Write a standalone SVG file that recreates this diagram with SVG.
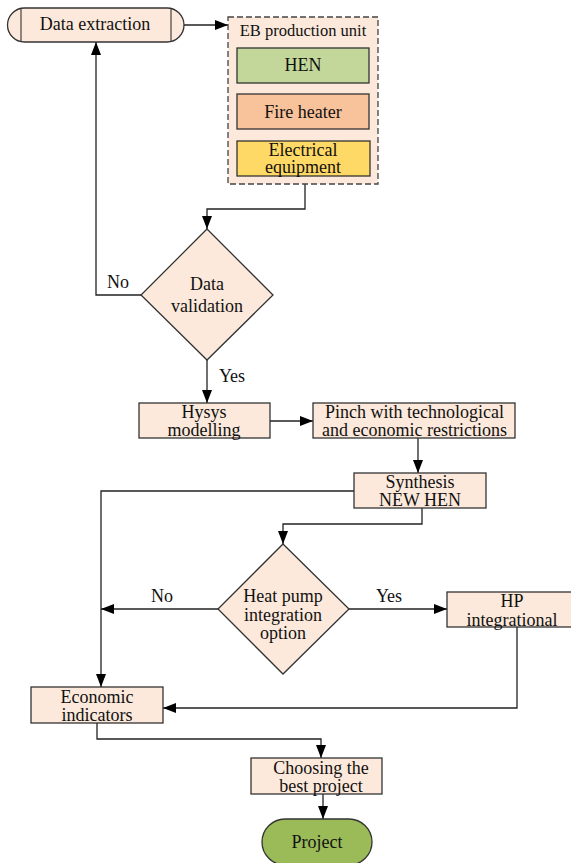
<svg xmlns="http://www.w3.org/2000/svg" width="571" height="863" viewBox="0 0 571 863" font-family="'Liberation Serif', 'DejaVu Serif', serif">
<defs>
<marker id="arr" markerWidth="14" markerHeight="10" refX="13" refY="5" orient="auto" markerUnits="userSpaceOnUse">
<path d="M0,0 L13,5 L0,10 Z" fill="#000"/>
</marker>
<style>
text{font-family:'Liberation Serif','DejaVu Serif',serif;font-size:18px;fill:#111;text-anchor:middle}
.box{fill:#FCE9DB;stroke:#333;stroke-width:1.3}
.con{fill:none;stroke:#222;stroke-width:1.3}
.arr{marker-end:url(#arr)}
</style>
</defs>
<rect width="571" height="863" fill="#fff"/>

<g id="connectors">
<path class="con arr" d="M184,25 H228"/>
<path class="con arr" d="M305,184 V209 H207 V229"/>
<path class="con arr" d="M141,295 H96 V42"/>
<path class="con arr" d="M207,360 V403"/>
<path class="con arr" d="M270,421 H313"/>
<path class="con arr" d="M418,438 V473"/>
<path class="con arr" d="M354,491 H101 V687"/>
<path class="con arr" d="M422,508 V524 H283 V544"/>
<path class="con arr" d="M218,609 H101"/>
<path class="con arr" d="M349,609 H447"/>
<path class="con arr" d="M517,627 V708 H163"/>
<path class="con arr" d="M97,723 V739 H321 V758"/>
<path class="con arr" d="M323,794 V819"/>
<text x="118" y="288">No</text>
<text x="232" y="382">Yes</text>
<text x="162" y="602">No</text>
<text x="389" y="602">Yes</text>
</g>

<g id="data-extraction">
<rect x="7.5" y="8" width="176.5" height="34" rx="17" ry="17" class="box"/>
<line x1="21" y1="8" x2="21" y2="42" stroke="#333" stroke-width="1.1"/>
<line x1="171" y1="8" x2="171" y2="42" stroke="#333" stroke-width="1.1"/>
<text x="95" y="30">Data extraction</text>
</g>

<g id="eb-unit">
<rect x="228" y="17" width="150" height="167" fill="#FCE9DB" stroke="#444" stroke-width="1.3" stroke-dasharray="6,3"/>
<text x="303" y="36" style="font-size:16.5px">EB production unit</text>
</g>
<g id="hen">
<rect x="237" y="48" width="132" height="35" fill="#C4D79B" stroke="#333" stroke-width="1.3"/>
<text x="303" y="71">HEN</text>
</g>
<g id="fire-heater">
<rect x="237" y="94" width="132" height="35" fill="#F8C29A" stroke="#333" stroke-width="1.3"/>
<text x="303" y="118">Fire heater</text>
</g>
<g id="electrical">
<rect x="237" y="141" width="133" height="35" fill="#FFD966" stroke="#333" stroke-width="1.3"/>
<text x="303" y="156">Electrical</text>
<text x="303" y="173">equipment</text>
</g>

<g id="data-validation">
<polygon points="207,229 273,295 207,360 141,295" class="box"/>
<text x="207" y="290">Data</text>
<text x="207" y="312">validation</text>
</g>

<g id="hysys">
<rect x="139" y="403" width="131" height="35" class="box"/>
<text x="204" y="418">Hysys</text>
<text x="204" y="436">modelling</text>
</g>

<g id="pinch">
<rect x="313" y="403" width="202" height="35" class="box"/>
<text x="414.5" y="418">Pinch with technological</text>
<text x="414.5" y="436">and economic restrictions</text>
</g>

<g id="synthesis">
<rect x="354" y="473" width="132" height="35" class="box"/>
<text x="420" y="488">Synthesis</text>
<text x="420" y="506">NEW HEN</text>
</g>

<g id="heat-pump">
<polygon points="283,544 349,609 283,674 218,609" class="box"/>
<text x="283" y="602">Heat pump</text>
<text x="283" y="621">integration</text>
<text x="283" y="639">option</text>
</g>

<g id="hp-integrational">
<rect x="447" y="592" width="130" height="35" class="box"/>
<text x="512" y="607">HP</text>
<text x="512" y="626">integrational</text>
</g>

<g id="economic">
<rect x="31" y="687" width="132" height="36" class="box"/>
<text x="97" y="703">Economic</text>
<text x="97" y="721">indicators</text>
</g>

<g id="choosing">
<rect x="251" y="758" width="131" height="36" class="box"/>
<text x="321" y="774">Choosing the</text>
<text x="321" y="792">best project</text>
</g>

<g id="project">
<rect x="262" y="819" width="110" height="46" rx="23" ry="23" fill="#9BBB59" stroke="#333" stroke-width="1.3"/>
<text x="317" y="848">Project</text>
</g>
</svg>
